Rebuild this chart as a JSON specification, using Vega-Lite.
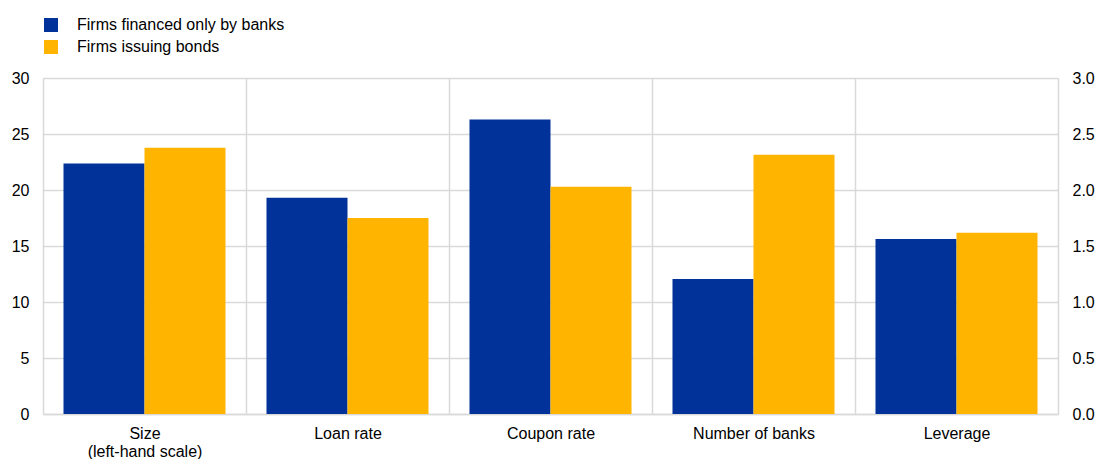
{
  "$schema": "https://vega.github.io/schema/vega-lite/v6.json",
  "width": 1015,
  "height": 336,
  "autosize": {"type": "none"},
  "padding": {"left": 43, "top": 78, "right": 39, "bottom": 45},
  "background": "white",
  "config": {
    "font": "Liberation Sans",
    "view": {"stroke": null},
    "axis": {"labelFont": "Liberation Sans", "labelFontSize": 16, "labelColor": "#000000", "title": null},
    "legend": {"labelFont": "Liberation Sans", "labelFontSize": 16, "labelColor": "#000000", "labelLimit": 400}
  },
  "data": {
    "values": [
      {"category": "Size", "series": "Firms financed only by banks", "value": 22.37, "scale": "left"},
      {"category": "Size", "series": "Firms issuing bonds", "value": 23.78, "scale": "left"},
      {"category": "Loan rate", "series": "Firms financed only by banks", "value": 1.93, "scale": "right"},
      {"category": "Loan rate", "series": "Firms issuing bonds", "value": 1.75, "scale": "right"},
      {"category": "Coupon rate", "series": "Firms financed only by banks", "value": 2.63, "scale": "right"},
      {"category": "Coupon rate", "series": "Firms issuing bonds", "value": 2.03, "scale": "right"},
      {"category": "Number of banks", "series": "Firms financed only by banks", "value": 1.205, "scale": "right"},
      {"category": "Number of banks", "series": "Firms issuing bonds", "value": 2.315, "scale": "right"},
      {"category": "Leverage", "series": "Firms financed only by banks", "value": 1.562, "scale": "right"},
      {"category": "Leverage", "series": "Firms issuing bonds", "value": 1.619, "scale": "right"}
    ]
  },
  "encoding": {
    "x": {
      "field": "category",
      "type": "nominal",
      "sort": ["Size", "Loan rate", "Coupon rate", "Number of banks", "Leverage"],
      "scale": {"paddingInner": 0, "paddingOuter": 0},
      "axis": {
        "labelAngle": 0,
        "ticks": false,
        "domainColor": "#d9d9d9",
        "domainWidth": 1.5,
        "grid": true,
        "gridColor": "#d9d9d9",
        "gridWidth": 1.5,
        "tickBand": "extent",
        "labelPadding": 11,
        "labelLineHeight": 18,
        "labelExpr": "datum.value == 'Size' ? ['Size', '(left-hand scale)'] : datum.value"
      }
    },
    "xOffset": {
      "field": "series",
      "type": "nominal",
      "sort": ["Firms financed only by banks", "Firms issuing bonds"],
      "scale": {"paddingInner": 0, "paddingOuter": 0.253}
    },
    "color": {
      "field": "series",
      "type": "nominal",
      "sort": ["Firms financed only by banks", "Firms issuing bonds"],
      "scale": {"domain": ["Firms financed only by banks", "Firms issuing bonds"], "range": ["#003299", "#FFB400"]},
      "legend": {
        "title": null,
        "orient": "none",
        "legendX": 0,
        "legendY": -61,
        "symbolType": "square",
        "symbolSize": 196,
        "symbolStrokeWidth": 0,
        "labelOffset": 18,
        "rowPadding": 6
      }
    }
  },
  "layer": [
    {
      "transform": [{"filter": "datum.scale == 'left'"}],
      "mark": {"type": "bar"},
      "encoding": {
        "y": {
          "field": "value",
          "type": "quantitative",
          "scale": {"domain": [0, 30]},
          "axis": {
            "orient": "left",
            "values": [0, 5, 10, 15, 20, 25, 30],
            "domain": false,
            "ticks": false,
            "grid": true,
            "gridColor": "#d9d9d9",
            "gridWidth": 1.5,
            "labelPadding": 14
          }
        }
      }
    },
    {
      "transform": [{"filter": "datum.scale == 'right'"}],
      "mark": {"type": "bar"},
      "encoding": {
        "y": {
          "field": "value",
          "type": "quantitative",
          "scale": {"domain": [0, 3]},
          "axis": {
            "orient": "right",
            "values": [0, 0.5, 1, 1.5, 2, 2.5, 3],
            "format": ".1f",
            "domain": false,
            "ticks": false,
            "grid": false,
            "labelPadding": 14
          }
        }
      }
    }
  ],
  "resolve": {"scale": {"y": "independent"}, "axis": {"y": "independent"}}
}
